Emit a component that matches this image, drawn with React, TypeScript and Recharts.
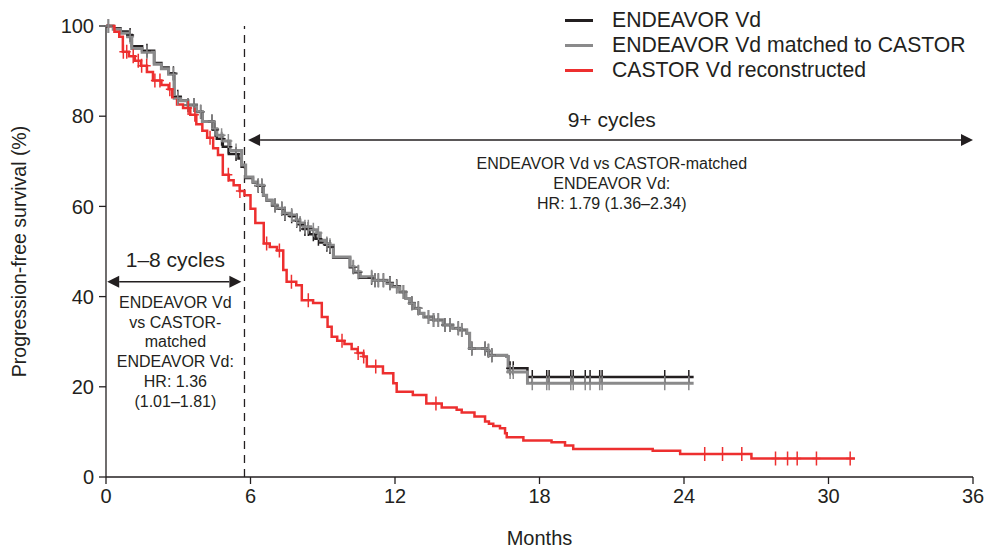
import React from 'react';
import { ComposedChart, Line, XAxis, YAxis, ReferenceLine, ReferenceDot, Legend } from 'recharts';

const FONT = '"Liberation Sans", Arial, sans-serif';
const INK = '#231f20';

const seriesNames = ['ENDEAVOR Vd', 'ENDEAVOR Vd matched to CASTOR', 'CASTOR Vd reconstructed'];
const seriesColors = ['#231f20', '#8a8a8b', '#ed2f2f'];

const xTicks = [0, 6, 12, 18, 24, 30, 36];
const yTicks = [0, 20, 40, 60, 80, 100];

// ENDEAVOR Vd (black)
const endeavorTimes = [0, 0.3, 0.6, 0.9, 1.07, 1.5, 2.0, 2.3, 2.6, 2.83, 3.1, 3.4, 3.76, 4.0, 4.45, 4.6, 4.85, 5.1, 5.5, 5.63, 5.8, 6.1, 6.3, 6.53, 6.67, 6.9, 7.1, 7.4, 7.64, 7.9, 8.05, 8.2, 8.45, 8.7, 8.9, 9.1, 9.3, 9.44, 10.13, 10.3, 10.55, 11.1, 11.67, 11.9, 12.2, 12.45, 12.6, 12.8, 13.0, 13.2, 13.6, 14.0, 14.4, 14.7, 14.98, 15.1, 15.8, 15.9, 16.64, 16.7, 17.5];
const endeavorSurv = [100, 99.5, 98.8, 98.0, 95.5, 94.5, 91.8, 90.8, 89.5, 84.3, 83.5, 82.5, 81.0, 78.8, 77.0, 75.0, 73.2, 71.6, 70.6, 68.8, 66.3, 65.3, 64.6, 62.4, 61.3, 60.2, 59.5, 58.3, 57.8, 56.8, 56.0, 55.0, 53.8, 52.8, 52.0, 51.5, 51.0, 48.6, 46.5, 45.4, 44.2, 43.6, 43.0, 42.3, 41.0, 39.6, 38.5, 37.4, 36.3, 35.5, 34.8, 33.7, 33.0, 32.6, 31.9, 28.5, 28.0, 27.0, 26.7, 24.1, 22.2];
const endeavorEnd = 24.4;

// ENDEAVOR Vd matched to CASTOR (grey)
const matchedTimes = [0, 0.3, 0.6, 0.9, 1.07, 1.5, 2.0, 2.3, 2.6, 2.83, 3.1, 3.4, 3.76, 4.0, 4.45, 4.6, 4.85, 5.15, 5.63, 5.8, 6.1, 6.3, 6.53, 6.67, 6.9, 7.1, 7.4, 7.64, 7.9, 8.05, 8.2, 8.5, 8.75, 8.9, 9.1, 9.3, 9.44, 10.13, 10.3, 10.55, 11.1, 11.67, 11.9, 12.2, 12.45, 12.6, 12.8, 13.0, 13.2, 13.6, 14.0, 14.4, 14.7, 14.98, 15.1, 15.8, 15.9, 16.64, 16.7, 17.5];
const matchedSurv = [100, 99.3, 98.4, 97.6, 95.0, 94.2, 91.5, 90.5, 89.3, 84.0, 83.4, 82.5, 81.0, 78.8, 77.2, 75.8, 74.5, 72.4, 69.2, 66.5, 65.4, 64.7, 62.5, 61.4, 60.3, 59.6, 58.5, 58.1, 57.0, 56.3, 55.5, 54.8, 54.1, 52.5, 51.8, 51.4, 48.8, 46.6, 45.5, 44.4, 43.6, 42.9, 42.2, 41.0, 39.6, 38.5, 37.4, 36.3, 35.5, 34.8, 33.7, 33.0, 32.6, 31.9, 28.5, 28.0, 27.0, 26.7, 23.3, 20.8];
const matchedEnd = 24.4;
const matchedCensor = [0.1, 1.0, 1.7, 2.8, 2.98, 3.4, 3.65, 3.93, 4.4, 4.53, 4.8, 5.08, 5.4, 6.32, 6.47, 7.02, 7.3, 7.43, 7.71, 7.92, 8.06, 8.26, 8.4, 8.61, 8.82, 9.17, 9.3, 10.27, 10.48, 11.03, 11.17, 11.31, 11.52, 11.79, 12.07, 12.35, 12.7, 12.97, 13.39, 13.6, 13.8, 14.08, 14.29, 14.63, 14.77, 15.19, 15.74, 15.88, 16.02, 16.78, 16.91, 17.7, 18.3, 18.4, 19.3, 19.4, 19.9, 20.1, 20.5, 20.6, 23.2, 24.2];

// CASTOR Vd reconstructed (red)
const castorTimes = [0, 0.35, 0.55, 0.7, 0.95, 1.2, 1.45, 1.7, 1.95, 2.3, 2.6, 2.75, 2.95, 3.2, 3.5, 3.75, 4.0, 4.2, 4.45, 4.65, 4.85, 5.1, 5.3, 5.55, 5.75, 6.0, 6.2, 6.55, 6.8, 7.1, 7.36, 7.5, 7.9, 8.13, 8.6, 8.96, 9.2, 9.37, 9.6, 9.9, 10.2, 10.45, 10.69, 10.83, 11.5, 11.93, 12.07, 12.74, 13.3, 13.94, 14.56, 14.77, 15.3, 15.74, 15.9, 16.08, 16.36, 16.57, 16.64, 17.33, 18.5, 19.06, 19.4, 22.7, 23.84, 26.8];
const castorSurv = [100, 98.7, 97.6, 94.3, 93.3, 92.3, 91.2, 89.8, 87.9, 86.9, 86.0, 84.2, 82.6, 81.8, 80.3, 78.2, 76.8, 75.2, 72.9, 71.4, 67.0, 65.8, 64.7, 63.4, 62.5, 59.5, 56.3, 51.8, 51.0, 50.2, 45.9, 43.3, 42.5, 39.2, 38.6, 35.5, 33.3, 31.1, 30.2, 29.5, 28.4, 27.5, 26.7, 24.5, 23.0, 20.8, 18.9, 18.2, 16.3, 15.4, 14.9, 14.3, 13.4, 12.3, 11.8, 11.3, 10.8, 9.7, 8.8, 8.1, 7.7, 7.0, 6.2, 5.8, 5.1, 4.1];
const castorEnd = 31.1;
const castorCensor = [0.72, 0.86, 1.13, 1.34, 1.48, 1.69, 2.03, 2.24, 2.65, 3.41, 3.69, 4.32, 5.08, 5.56, 6.67, 7.2, 7.7, 8.4, 9.8, 10.47, 10.7, 11.2, 13.7, 24.86, 25.6, 26.4, 27.8, 28.3, 28.7, 29.5, 30.9];

// annotations
const cutoffMonth = 5.75;
const lateLabel = '9+ cycles';
const lateText = ['ENDEAVOR Vd vs CASTOR-matched', 'ENDEAVOR Vd:', 'HR: 1.79 (1.36–2.34)'];
const earlyLabel = '1–8 cycles';
const earlyText = ['ENDEAVOR Vd', 'vs CASTOR-', 'matched', 'ENDEAVOR Vd:', 'HR: 1.36', '(1.01–1.81)'];

type Pt = { t: number; s: number; c: boolean };

function buildCurve(times: number[], surv: number[], censor: number[], end: number): Pt[] {
  const pts: Pt[] = times.map((t, i) => ({ t, s: surv[i], c: false }));
  censor.forEach((ct) => {
    let k = 0;
    for (let i = 0; i < times.length; i++) if (times[i] <= ct) k = i;
    pts.push({ t: ct, s: surv[k], c: true });
  });
  pts.push({ t: end, s: surv[surv.length - 1], c: false });
  return pts.sort((a, b) => a.t - b.t || (a.c ? 1 : 0) - (b.c ? 1 : 0));
}

const endeavorData = buildCurve(endeavorTimes, endeavorSurv, matchedCensor, endeavorEnd);
const matchedData = buildCurve(matchedTimes, matchedSurv, matchedCensor, matchedEnd);
const castorData = buildCurve(castorTimes, castorSurv, castorCensor, castorEnd);

const censorDot = (color: string) => (props: any) => {
  const { cx, cy, payload, index } = props;
  if (!payload || !payload.c || cx == null || cy == null) return <g key={`n-${index}`} />;
  return (
    <path
      key={`c-${index}`}
      d={`M${cx},${cy - 7}V${cy + 7}M${cx - 4},${cy}H${cx + 4}`}
      stroke={color}
      strokeWidth={1.5}
      fill="none"
    />
  );
};

const DoubleArrow = (props: any) => {
  const { x1, y1, x2, y2 } = props;
  const h = 12;
  const w = 6;
  return (
    <g>
      <line x1={x1 + h} y1={y1} x2={x2 - h} y2={y2} stroke={INK} strokeWidth={1.5} />
      <polygon points={`${x1},${y1} ${x1 + h},${y1 - w} ${x1 + h},${y1 + w}`} fill={INK} />
      <polygon points={`${x2},${y2} ${x2 - h},${y2 - w} ${x2 - h},${y2 + w}`} fill={INK} />
    </g>
  );
};

const textShape = (lines: string[], size: number, gap: number) => (props: any) => (
  <text x={props.cx} y={props.cy} textAnchor="middle" fontFamily={FONT} fontSize={size} fill={INK}>
    {lines.map((l, i) => (
      <tspan key={i} x={props.cx} dy={i === 0 ? 0 : gap}>
        {l}
      </tspan>
    ))}
  </text>
);

const LegendBox = () => (
  <div style={{ fontFamily: FONT, fontSize: 21.2, color: INK }}>
    {seriesNames.map((n, i) => (
      <div key={n} style={{ display: 'flex', alignItems: 'center', height: 25, whiteSpace: 'nowrap' }}>
        <span style={{ display: 'inline-block', width: 28, height: 3, background: seriesColors[i], marginRight: 19 }} />
        <span>{n}</span>
      </div>
    ))}
  </div>
);

export default function App() {
  return (
    <div style={{ position: 'absolute', left: 0, top: 0 }}>
      <ComposedChart width={987} height={549} margin={{ top: 26, right: 14, bottom: 0, left: 0 }}>
        <XAxis
          type="number"
          dataKey="t"
          domain={[0, 36]}
          ticks={xTicks}
          interval={0}
          height={72}
          tickSize={7}
          tickMargin={5}
          axisLine={{ stroke: INK, strokeWidth: 1.3 }}
          tickLine={{ stroke: INK, strokeWidth: 1.3 }}
          tick={{ fill: INK, fontSize: 20, fontFamily: FONT }}
          label={{
            content: (p: any) => (
              <text x={p.viewBox.x + p.viewBox.width / 2} y={p.viewBox.y + 68} textAnchor="middle" fontFamily={FONT} fontSize={20} fill={INK}>
                Months
              </text>
            ),
          }}
        />
        <YAxis
          type="number"
          domain={[0, 100]}
          ticks={yTicks}
          interval={0}
          width={106}
          tickSize={7}
          tickMargin={5}
          axisLine={{ stroke: INK, strokeWidth: 1.3 }}
          tickLine={{ stroke: INK, strokeWidth: 1.3 }}
          tick={{ fill: INK, fontSize: 20, fontFamily: FONT }}
          label={{
            content: (p: any) => {
              const x = 26;
              const y = p.viewBox.y + p.viewBox.height / 2;
              return (
                <text x={x} y={y} transform={`rotate(-90, ${x}, ${y})`} textAnchor="middle" fontFamily={FONT} fontSize={19.5} fill={INK}>
                  Progression-free survival (%)
                </text>
              );
            },
          }}
        />
        <Legend layout="vertical" align="center" verticalAlign="middle" content={<LegendBox />} wrapperStyle={{ left: 565, top: 7.5, width: 420 }} />
        <ReferenceLine x={cutoffMonth} stroke={INK} strokeWidth={1.3} strokeDasharray="8 6" />
        <ReferenceLine segment={[{ x: 5.9, y: 74.7 }, { x: 36, y: 74.7 }]} shape={DoubleArrow} />
        <ReferenceLine segment={[{ x: 0.05, y: 43.3 }, { x: 5.62, y: 43.3 }]} shape={DoubleArrow} />
        <ReferenceDot x={21} y={77.7} r={0} shape={textShape([lateLabel], 21, 0)} />
        <ReferenceDot x={21} y={68.3} r={0} shape={textShape(lateText, 16, 20)} />
        <ReferenceDot x={2.88} y={46.6} r={0} shape={textShape([earlyLabel], 21, 0)} />
        <ReferenceDot x={2.88} y={37.5} r={0} shape={textShape(earlyText, 16, 19.8)} />
        <Line
          data={endeavorData}
          dataKey="s"
          type="stepAfter"
          stroke={seriesColors[0]}
          strokeWidth={2.5}
          dot={censorDot(seriesColors[0])}
          activeDot={false}
          isAnimationActive={false}
          name={seriesNames[0]}
        />
        <Line
          data={matchedData}
          dataKey="s"
          type="stepAfter"
          stroke={seriesColors[1]}
          strokeWidth={3}
          dot={censorDot(seriesColors[1])}
          activeDot={false}
          isAnimationActive={false}
          name={seriesNames[1]}
        />
        <Line
          data={castorData}
          dataKey="s"
          type="stepAfter"
          stroke={seriesColors[2]}
          strokeWidth={2.5}
          dot={censorDot(seriesColors[2])}
          activeDot={false}
          isAnimationActive={false}
          name={seriesNames[2]}
        />
      </ComposedChart>
    </div>
  );
}
